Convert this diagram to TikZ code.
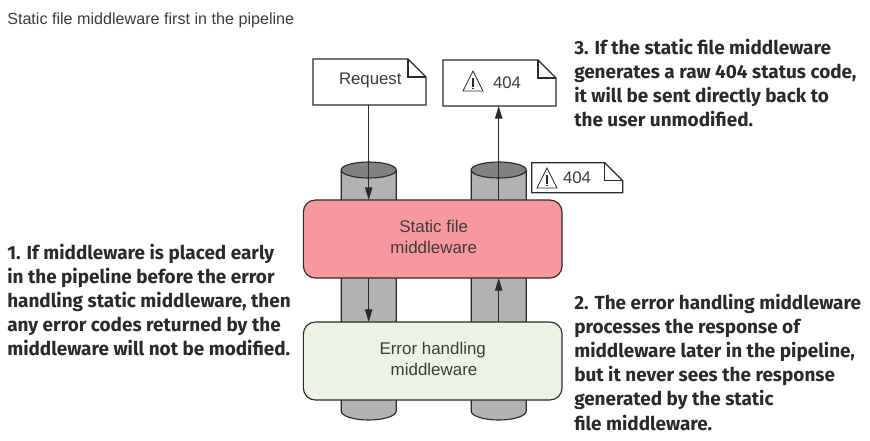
\documentclass[tikz,border=0pt]{standalone}
\usepackage{fontspec}
\setmainfont{Liberation Sans}
\newfontfamily\notefont{Fira Sans}
\usetikzlibrary{calc,arrows.meta}
\definecolor{pipegray}{HTML}{B1B3B3}
\definecolor{pipedark}{HTML}{7F8183}
\definecolor{linedark}{HTML}{2B2A29}
\definecolor{staticred}{HTML}{F6989D}
\definecolor{errorgreen}{HTML}{EAF3E4}
\definecolor{textgray}{HTML}{3C3C3C}
\tikzset{
  x=0.75pt,y=-0.75pt,
  docbox/.style={minimum width=84.75pt,minimum height=34.5pt,inner sep=0pt,outer sep=0pt,font=\fontsize{12.6pt}{15pt}\selectfont,text=textgray},
  doclabel/.style={anchor=west,inner sep=0pt,outer sep=0pt,font=\fontsize{12.6pt}{15pt}\selectfont,text=textgray},
  docline/.style={draw=linedark,line width=0.85pt,fill=white,line join=miter},
  mwbox/.style={draw=linedark,line width=0.85pt,rounded corners=9pt,minimum width=194pt,minimum height=58.5pt,inner sep=0pt,outer sep=0pt,align=center,font=\fontsize{12.7pt}{15.5pt}\selectfont,text=textgray},
  pipe/.style={draw=linedark,line width=0.85pt,fill=pipegray},
  pipetop/.style={draw=linedark,line width=0.85pt,fill=pipedark},
  flow/.style={draw=linedark,line width=0.85pt,-{Triangle[length=9.5pt,width=5.5pt]}},
  note/.style={anchor=north west,align=left,inner sep=0pt,font=\notefont\bfseries\fontsize{14.2pt}{18.15pt}\selectfont,text=linedark},
  caption/.style={anchor=west,inner sep=0pt,font=\fontsize{12.1pt}{14pt}\selectfont,text=textgray},
  warnline/.style={draw=linedark,line width=0.6pt,line join=miter}
}
\newcommand{\docshape}[2]{% name, fold px
  \draw[docline] (#1.north west) -- ($(#1.north east)+(-#2,0)$) -- ($(#1.north east)+(0,#2)$) -- (#1.south east) -- (#1.south west) -- cycle;
  \draw[docline,fill=none] ($(#1.north east)+(-#2,0)$) -- ($(#1.north east)+(-#2,#2)$) -- ($(#1.north east)+(0,#2)$);
}
\newcommand{\warnicon}[2]{% centre x, base y
  \draw[warnline] (#1,#2) ++(-10,0) -- ++(10,-20) -- ++(10,20) -- cycle;
  \draw[warnline,line width=0.8pt] (#1,#2) ++(0,-13) -- ++(0,8.5);
  \draw[warnline,line width=0.8pt] (#1,#2) ++(0,-3.2) -- ++(0,1.6);
}
\newcommand{\pipebody}[3]{% centre x, top y, bottom y
  \fill[pipegray] (#1-27.5,#2) rectangle (#1+27.5,#3);
  \draw[pipe] (#1-27.5,#2) -- (#1-27.5,#3) arc[start angle=180,end angle=360,x radius=27.5,y radius=-9] -- (#1+27.5,#2);
  \draw[pipetop] (#1,#2) ellipse[x radius=27.5,y radius=8];
}
\newcommand{\mwlabel}[2]{\raisebox{1.8pt}{\begin{tabular}{@{}c@{}}#1\\#2\end{tabular}}}
\begin{document}
\begin{tikzpicture}
\useasboundingbox (0,0) rectangle (870,440);
\fill[white] (0,0) rectangle (870,440);
\node[caption] (cap) at (7,20) {Static file middleware first in the pipeline};

\pipebody{368.7}{170}{411}
\pipebody{498.7}{170}{411}
\coordinate (lp) at (368.7,170);
\coordinate (rp) at (498.7,170);

\node[docbox] (req) at (369.5,82) {};
\docshape{req}{18}
\node[doclabel] (reqtext) at (339,80) {Request};

\node[docbox] (out) at (499.5,83) {};
\docshape{out}{18}
\warnicon{473}{91}
\node[doclabel] (outtext) at (493,83) {404};

\node[docbox,minimum width=68.25pt,minimum height=22.5pt] (small) at (577.3,177.8) {};
\docshape{small}{18}
\warnicon{547}{188}
\node[doclabel] (smalltext) at (563,178) {404};

\node[mwbox,fill=staticred] (static) at (432.7,239) {\hspace*{1.5pt}\mwlabel{Static file}{middleware}};
\node[mwbox,fill=errorgreen] (error) at (432.7,361) {\mwlabel{Error handling}{\hspace*{2pt}middleware}};

\draw[flow] (req.south -| lp) -- (lp |- static.north);
\draw[flow] (lp |- static.south) -- (lp |- error.north);
\draw[flow] (rp |- error.north) -- (rp |- static.south);
\draw[flow] (rp |- static.north) -- (rp |- out.south);

\node[note] (n1) at (7,243.5) {1. If middleware is placed early\\in the pipeline before the error\\handling static middleware, then\\any error codes returned by the\\middleware will not be modified.};
\node[note] (n2) at (574,293.5) {2. The error handling middleware\\processes the response of\\middleware later in the pipeline,\\but it never sees the response\\generated by the static\\file middleware.};
\node[note] (n3) at (574,38.5) {3. If the static file middleware\\generates a raw 404 status code,\\it will be sent directly back to\\the user unmodified.};
\end{tikzpicture}
\end{document}
